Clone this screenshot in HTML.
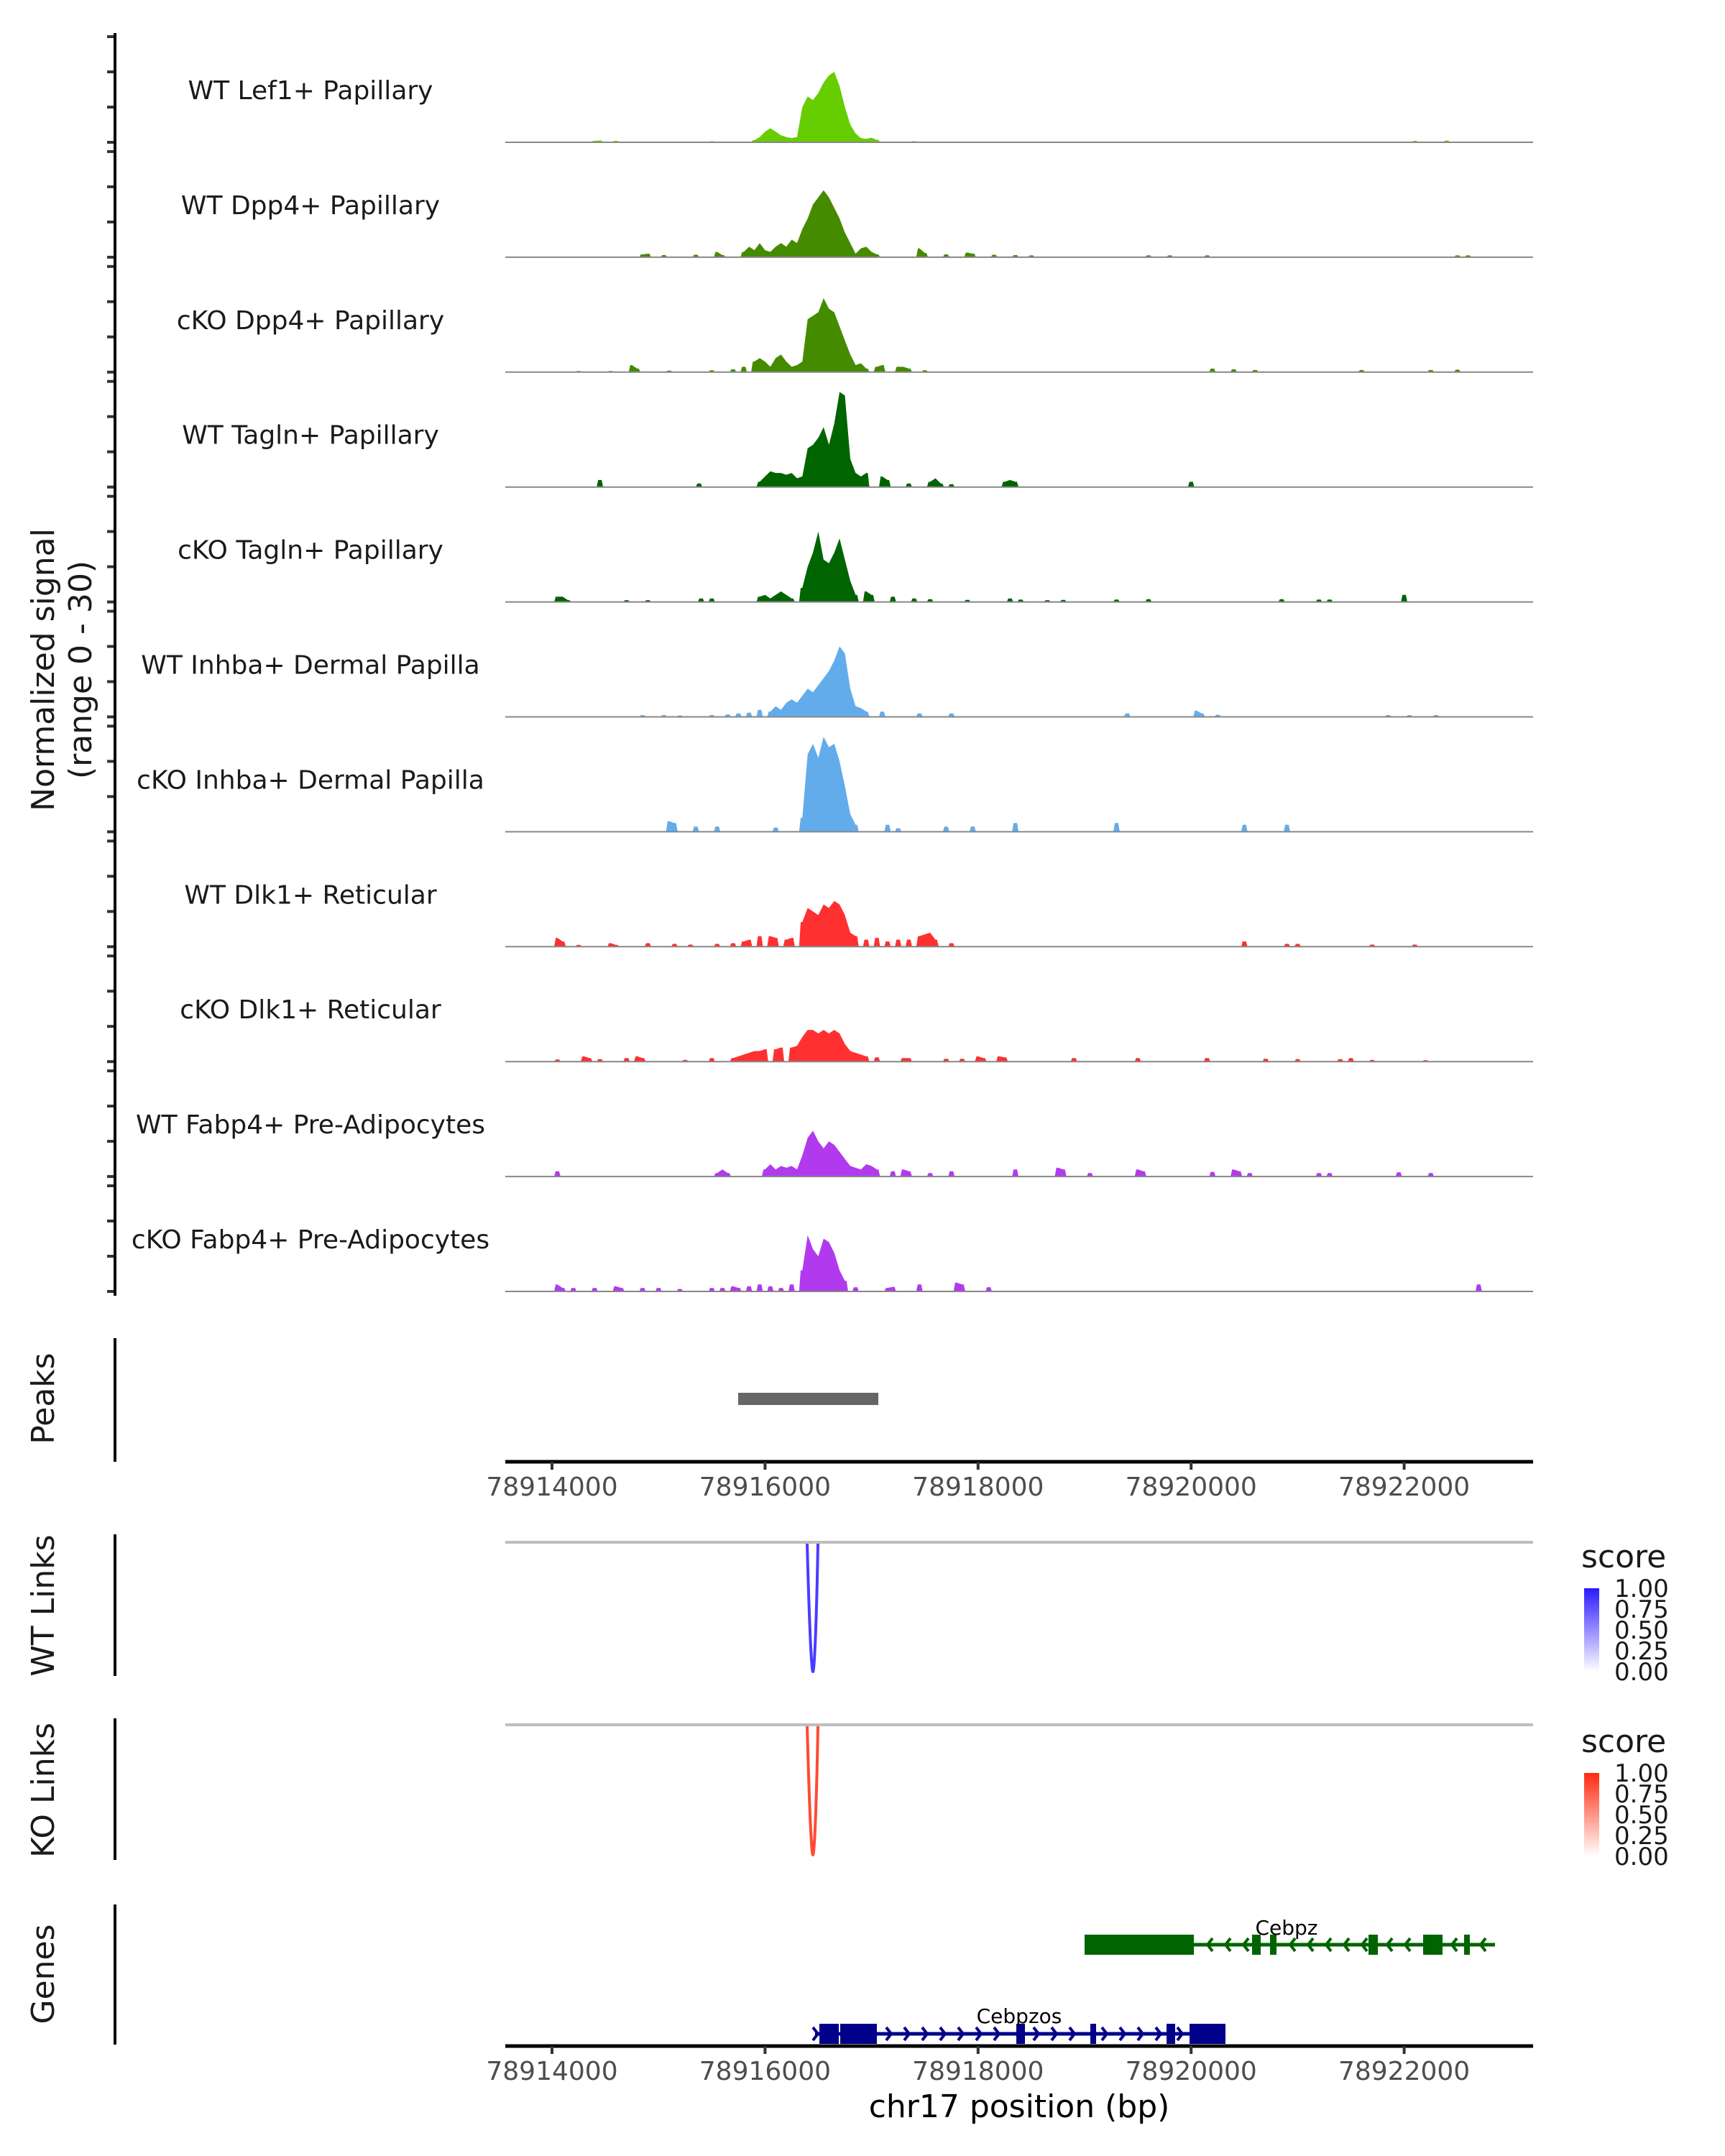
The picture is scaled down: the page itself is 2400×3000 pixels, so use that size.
<!DOCTYPE html>
<html><head><meta charset="utf-8"><style>
html,body{margin:0;padding:0;background:#fff;}
svg{display:block;font-family:"DejaVu Sans","Liberation Sans",sans-serif;}
</style></head><body>
<svg id="chart" width="2400" height="3000" viewBox="0 0 2400 3000" xmlns="http://www.w3.org/2000/svg">
<defs>
<linearGradient id="gBlue" x1="0" y1="1" x2="0" y2="0"><stop offset="0" stop-color="#ffffff"/><stop offset="1" stop-color="#2a1aff"/></linearGradient>
<linearGradient id="gRed" x1="0" y1="1" x2="0" y2="0"><stop offset="0" stop-color="#ffffff"/><stop offset="1" stop-color="#ff2a10"/></linearGradient>
</defs>
<g id="tracks"></g>
<g id="static">
<text x="63" y="932" transform="rotate(-90 63 932)" text-anchor="middle" dominant-baseline="middle" font-size="44" fill="#1a1a1a">Normalized signal</text>
<text x="115" y="932" transform="rotate(-90 115 932)" text-anchor="middle" dominant-baseline="middle" font-size="44" fill="#1a1a1a">(range 0 - 30)</text>
<line x1="160" y1="46" x2="160" y2="1803" stroke="#000" stroke-width="4"/>
<text x="63" y="1946" transform="rotate(-90 63 1946)" text-anchor="middle" dominant-baseline="middle" font-size="44" fill="#1a1a1a">Peaks</text>
<line x1="160" y1="1862" x2="160" y2="2034" stroke="#000" stroke-width="4"/>
<rect x="1027" y="1938" width="195" height="17" fill="#666"/>
<text x="63" y="2234" transform="rotate(-90 63 2234)" text-anchor="middle" dominant-baseline="middle" font-size="44" fill="#1a1a1a">WT Links</text>
<line x1="160" y1="2135" x2="160" y2="2332" stroke="#000" stroke-width="4"/>
<line x1="703" y1="2146" x2="2133" y2="2146" stroke="#bebebe" stroke-width="4"/>
<path d="M1123 2148 C1126 2260 1129 2326 1131 2326 C1133 2326 1136 2260 1138 2148" fill="none" stroke="#4a3cff" stroke-width="4"/>
<text x="63" y="2491" transform="rotate(-90 63 2491)" text-anchor="middle" dominant-baseline="middle" font-size="44" fill="#1a1a1a">KO Links</text>
<line x1="160" y1="2391" x2="160" y2="2588" stroke="#000" stroke-width="4"/>
<line x1="703" y1="2400" x2="2133" y2="2400" stroke="#bebebe" stroke-width="4"/>
<path d="M1123 2402 C1126 2514 1129 2581 1131 2581 C1133 2581 1136 2514 1138 2402" fill="none" stroke="#ff4a33" stroke-width="4"/>
<g>
<text x="2200" y="2181" font-size="44" fill="#1a1a1a">score</text>
<rect x="2204" y="2210" width="21" height="116" fill="url(#gBlue)"/>
<g font-size="34" fill="#1a1a1a"><text x="2246" y="2222">1.00</text><text x="2246" y="2251">0.75</text><text x="2246" y="2280">0.50</text><text x="2246" y="2309">0.25</text><text x="2246" y="2338">0.00</text></g>
</g>
<g>
<text x="2200" y="2438" font-size="44" fill="#1a1a1a">score</text>
<rect x="2204" y="2467" width="21" height="116" fill="url(#gRed)"/>
<g font-size="34" fill="#1a1a1a"><text x="2246" y="2479">1.00</text><text x="2246" y="2508">0.75</text><text x="2246" y="2537">0.50</text><text x="2246" y="2566">0.25</text><text x="2246" y="2595">0.00</text></g>
</g>
<text x="63" y="2747" transform="rotate(-90 63 2747)" text-anchor="middle" dominant-baseline="middle" font-size="44" fill="#1a1a1a">Genes</text>
<line x1="160" y1="2650" x2="160" y2="2845" stroke="#000" stroke-width="4"/>
<g fill="#006400">
<line x1="1509" y1="2706" x2="2080" y2="2706" stroke="#006400" stroke-width="5"/>
<rect x="1509" y="2692" width="152" height="28"/>
<rect x="1742" y="2692" width="12" height="28"/><rect x="1767" y="2692" width="9" height="28"/>
<rect x="1904" y="2692" width="13" height="28"/><rect x="1980" y="2692" width="27" height="28"/><rect x="2037" y="2692" width="8" height="28"/>
<path id="chevL" d="" fill="none" stroke="#006400" stroke-width="4"/>
<text x="1790" y="2692" font-size="28" fill="#000" text-anchor="middle">Cebpz</text>
</g>
<g fill="#00008b">
<line x1="1134" y1="2830" x2="1705" y2="2830" stroke="#00008b" stroke-width="5"/>
<rect x="1140" y="2816" width="27" height="28"/><rect x="1169" y="2816" width="51" height="28"/>
<rect x="1414" y="2816" width="12" height="28"/><rect x="1517" y="2816" width="8" height="28"/>
<rect x="1623" y="2816" width="12" height="28"/><rect x="1655" y="2816" width="50" height="28"/>
<path id="chevR" d="" fill="none" stroke="#00008b" stroke-width="4"/>
<text x="1418" y="2815" font-size="28" fill="#000" text-anchor="middle">Cebpzos</text>
</g>
<text x="1418" y="2946" text-anchor="middle" font-size="44" fill="#000">chr17 position (bp)</text>
</g>
<g id="axes"></g>
</svg>
<script>
const trackNames = ["WT Lef1+ Papillary","WT Dpp4+ Papillary","cKO Dpp4+ Papillary","WT Tagln+ Papillary","cKO Tagln+ Papillary","WT Inhba+ Dermal Papilla","cKO Inhba+ Dermal Papilla","WT Dlk1+ Reticular","cKO Dlk1+ Reticular","WT Fabp4+ Pre-Adipocytes","cKO Fabp4+ Pre-Adipocytes"];
const trackColors = ["#66cd00","#458b00","#458b00","#006400","#006400","#63acec","#63acec","#ff3030","#ff3030","#b23aee","#b23aee"];
const xTicks = [78914000,78916000,78918000,78920000,78922000];
const sigLef1 = [[400,0.4],[450,0.5],[600,0.4],[1500,0.3],[1900,0.6],[1950,1.5],[2000,3],[2050,4],[2100,3],[2150,2],[2200,1.5],[2250,1.2],[2300,1.5],[2350,10],[2400,13],[2450,12],[2500,14],[2550,17],[2600,19],[2650,20],[2700,16],[2750,10],[2800,5],[2850,2.5],[2900,1.2],[2950,1],[3000,1.3],[3050,0.7],[3400,0.3],[8100,0.4],[8400,0.5]];
const sigDpp4WT = [[850,0.8],[900,1],[1050,0.6],[1350,0.7],[1550,1.5],[1600,0.6],[1800,1.5],[1850,3],[1900,2],[1950,4],[2000,2],[2050,1.5],[2100,3],[2150,4],[2200,3],[2250,5],[2300,4],[2350,8],[2400,11],[2450,15],[2500,17],[2550,19],[2600,17],[2650,14],[2700,11],[2750,7],[2800,4],[2850,1],[2900,2.5],[2950,3],[3000,1.5],[3050,0.8],[3450,2.5],[3500,1.2],[3700,0.8],[3900,1.3],[3950,1],[4150,0.7],[4350,0.6],[4500,0.5],[5600,0.5],[5800,0.5],[6150,0.5],[8500,0.5],[8600,0.5]];
const sigDpp4KO = [[250,0.3],[550,0.3],[750,2],[800,1],[1100,0.4],[1500,0.5],[1700,0.8],[1800,1.5],[1900,3],[1950,4],[2000,3],[2050,1.5],[2100,4],[2150,5],[2200,3],[2250,1.5],[2300,2],[2350,3],[2400,15],[2450,16],[2500,17],[2550,21],[2600,18],[2650,17],[2700,13],[2750,9],[2800,5],[2850,2],[2900,2.5],[2950,1],[3050,1.5],[3100,2],[3250,1.5],[3300,1.5],[3350,1],[3500,0.5],[6200,1],[6400,0.8],[6600,0.6],[7600,0.6],[8250,0.6],[8500,0.7]];
const sigTaglnWT = [[450,2],[1380,1],[1950,1.5],[2000,3],[2050,4.5],[2100,4],[2150,4],[2200,3.5],[2250,4],[2300,2.5],[2350,3],[2400,11],[2450,12],[2500,14],[2550,17],[2600,12],[2650,18],[2700,27],[2750,26],[2800,8],[2850,4],[2900,3],[2950,4],[3100,3],[3150,2],[3350,1],[3550,1.5],[3600,2.5],[3650,1],[3750,0.8],[4250,1.5],[4300,2],[4350,1.5],[6000,1.5]];
const sigTaglnKO = [[50,1.5],[100,1.5],[150,0.5],[700,0.5],[900,0.5],[1400,1],[1500,1],[1950,1.5],[2000,2],[2050,1],[2100,2],[2150,3],[2200,2],[2250,1],[2350,4],[2400,10],[2450,14],[2500,20],[2550,12],[2600,11],[2650,14],[2700,18],[2750,12],[2800,6],[2850,2],[2950,3],[3000,2],[3200,1.5],[3400,1],[3550,0.8],[3900,0.6],[4300,1],[4400,0.7],[4650,0.5],[4800,0.6],[5300,0.7],[5600,0.8],[6850,0.8],[7200,0.7],[7300,0.7],[8000,2]];
const sigInhbaWT = [[850,0.5],[1050,0.5],[1200,0.4],[1500,0.5],[1650,0.7],[1750,1],[1850,1.2],[1950,2],[2050,1.5],[2100,3],[2150,2],[2200,4],[2250,5],[2300,4],[2350,6],[2400,8],[2450,7],[2500,9],[2550,11],[2600,13],[2650,16],[2700,20],[2750,18],[2800,8],[2850,3],[2900,2.5],[2950,1.5],[3100,1.5],[3450,1],[3750,1],[5400,1],[6050,1.8],[6100,1],[6250,0.6],[7850,0.5],[8050,0.5],[8300,0.5]];
const sigInhbaKO = [[1100,3],[1150,2.5],[1350,1.5],[1550,1.5],[2100,1.2],[2350,4],[2400,22],[2450,25],[2500,21],[2550,27],[2600,24],[2650,25],[2700,20],[2750,13],[2800,5],[2850,2],[3150,2],[3250,1],[3700,1.5],[3950,1.5],[4350,2.5],[5300,2.5],[6500,2],[6900,2]];
const sigDlk1WT = [[50,2.5],[100,1.5],[250,0.5],[550,1],[600,0.5],[900,1],[1150,0.8],[1300,0.6],[1550,0.8],[1700,1],[1800,1.5],[1850,2],[1950,3],[2050,3],[2100,2.5],[2200,2],[2250,2.5],[2350,7],[2400,11],[2450,10],[2500,9],[2550,12],[2600,11],[2650,13],[2700,12],[2750,9],[2800,4],[2850,3],[2950,2],[3050,2.5],[3150,1.5],[3250,2],[3350,2],[3450,3],[3500,3.5],[3550,4],[3600,2],[3750,1],[6500,1.5],[6900,0.8],[7000,0.8],[7700,0.6],[8100,0.6]];
const sigDlk1KO = [[50,0.6],[300,1.5],[350,1],[450,0.7],[700,1],[800,1.5],[850,1],[1250,0.5],[1500,1],[1700,1],[1750,1.5],[1800,2],[1850,2.5],[1900,3],[1950,3],[2000,3.5],[2100,3.5],[2150,4],[2250,4],[2300,4.5],[2350,7],[2400,9],[2450,9],[2500,8],[2550,9],[2600,8],[2650,9],[2700,8],[2750,5],[2800,3],[2850,2.5],[2900,2],[2950,1.5],[3050,1.2],[3300,1],[3350,1],[3700,0.8],[3850,0.8],[4000,1.5],[4050,1],[4200,1.5],[4250,1.2],[4900,1],[5500,1],[6150,1],[6700,0.8],[7000,0.7],[7400,0.7],[7500,1],[7700,0.5],[8200,0.4]];
const sigFabp4WT = [[50,1.5],[1550,1],[1600,2],[1650,1],[2000,2],[2050,3.5],[2100,2],[2150,3],[2200,2.5],[2250,3],[2300,2],[2350,6],[2400,11],[2450,13],[2500,10],[2550,8],[2600,10],[2650,9],[2700,7],[2750,5],[2800,3],[2850,2.5],[2900,2],[2950,3.5],[3000,3],[3050,2],[3200,1.5],[3300,2],[3350,1.5],[3550,1],[3750,1.5],[4350,2],[4750,2.5],[4800,2],[5050,1],[5500,2],[5550,1.5],[6200,1.3],[6400,2],[6450,1.5],[6550,1],[7200,1],[7300,1],[7950,1.2],[8250,1]];
const sigFabp4KO = [[50,2],[100,1],[200,1],[400,1],[600,1.5],[650,1],[850,1],[1000,1],[1200,0.7],[1500,1],[1600,1],[1700,1.5],[1750,1],[1850,1.5],[1950,2],[2050,1.5],[2150,1],[2250,2],[2350,6],[2400,16],[2450,12],[2500,10],[2550,15],[2600,14],[2650,11],[2700,6],[2750,3],[2850,1.2],[3150,1],[3200,1.3],[3450,2],[3800,2.5],[3850,2],[4100,1.2],[8700,2]];
const signals = [sigLef1,sigDpp4WT,sigDpp4KO,sigTaglnWT,sigTaglnKO,sigInhbaWT,sigInhbaKO,sigDlk1WT,sigDlk1KO,sigFabp4WT,sigFabp4KO];

const NS="http://www.w3.org/2000/svg";
const X0=768, PXBP=0.1482, ORIGIN=78914000;
function xs(off){return X0+off*PXBP;}
function ys(i,v){return 198+i*159.9 - v*4.9;}
const tg=document.getElementById('tracks');
signals.forEach((sig,i)=>{
  const base=ys(i,0);
  for(let k=0;k<4;k++){
    const t=document.createElementNS(NS,'line');
    t.setAttribute('x1',149);t.setAttribute('x2',160);
    t.setAttribute('y1',ys(i,k*10));t.setAttribute('y2',ys(i,k*10));
    t.setAttribute('stroke','#333');t.setAttribute('stroke-width',4);
    
    
    tg.appendChild(t);
  }
  // group consecutive bins into continuous areas
  const pts=sig.slice().sort((a,b)=>a[0]-b[0]);
  const groups=[];let cur=[];
  pts.forEach(p=>{
    if(cur.length && p[0]-cur[cur.length-1][0]>50){groups.push(cur);cur=[];}
    cur.push(p);
  });
  if(cur.length)groups.push(cur);
  let d='';
  groups.forEach(g=>{
    const a=xs(g[0][0]-30), b=xs(g[g.length-1][0]+30);
    d+=`M${a.toFixed(1)} ${base}`;
    if(g.length===1){
      const y=ys(i,g[0][1]);
      d+=`L${(a+2).toFixed(1)} ${y.toFixed(1)}L${(b-2).toFixed(1)} ${y.toFixed(1)}`;
    } else {
      d+=`L${xs(g[0][0]-15).toFixed(1)} ${ys(i,g[0][1]).toFixed(1)}`;
      g.forEach(([o,v])=>{d+=`L${xs(o).toFixed(1)} ${ys(i,v).toFixed(1)}`;});
      const l=g[g.length-1];
      d+=`L${xs(l[0]+15).toFixed(1)} ${ys(i,l[1]).toFixed(1)}`;
    }
    d+=`L${b.toFixed(1)} ${base}Z`;
  });
  const p=document.createElementNS(NS,'path');
  p.setAttribute('d',d);p.setAttribute('fill',trackColors[i]);
  
  
  tg.appendChild(p);
  const bl=document.createElementNS(NS,'line');
  bl.setAttribute('x1',703);bl.setAttribute('x2',2133);bl.setAttribute('y1',base);bl.setAttribute('y2',base);
  bl.setAttribute('stroke','#888');bl.setAttribute('stroke-width',2);
  
  
  tg.appendChild(bl);
  const tx=document.createElementNS(NS,'text');
  tx.setAttribute('x',432);tx.setAttribute('y',base-60);
  tx.setAttribute('text-anchor','middle');tx.setAttribute('font-size',36);tx.setAttribute('fill','#1a1a1a');
  tx.textContent=trackNames[i];
  
  
  tg.appendChild(tx);
});
const ag=document.getElementById('axes');
[2034,2847].forEach(yA=>{
  const l=document.createElementNS(NS,'line');
  l.setAttribute('x1',703);l.setAttribute('x2',2133);l.setAttribute('y1',yA);l.setAttribute('y2',yA);
  l.setAttribute('stroke','#000');l.setAttribute('stroke-width',5);
  
  
  ag.appendChild(l);
  xTicks.forEach(t=>{
    const x=xs(t-ORIGIN);
    const tk=document.createElementNS(NS,'line');
    tk.setAttribute('x1',x);tk.setAttribute('x2',x);tk.setAttribute('y1',yA);tk.setAttribute('y2',yA+11);
    tk.setAttribute('stroke','#333');tk.setAttribute('stroke-width',4);
    
    
    ag.appendChild(tk);
    const lb=document.createElementNS(NS,'text');
    lb.setAttribute('x',x);lb.setAttribute('y',yA+47);lb.setAttribute('text-anchor','middle');
    lb.setAttribute('font-size',36);lb.setAttribute('fill','#4d4d4d');
    lb.textContent=t;
    
    
    ag.appendChild(lb);
  });
});
let dl='';
[1680,1705,1730,1795,1820,1845,1870,1895,1930,1955,2020,2060].forEach(x=>{dl+=`M${x+7} 2697L${x} 2706L${x+7} 2715`;});
document.getElementById('chevL').setAttribute('d',dl);
let dr='';
[1138,1240,1265,1290,1315,1340,1365,1390,1445,1470,1495,1540,1565,1590,1615,1645].forEach(x=>{dr+=`M${x-7} 2821L${x} 2830L${x-7} 2839`;});
document.getElementById('chevR').setAttribute('d',dr);
</script>
</body></html>
